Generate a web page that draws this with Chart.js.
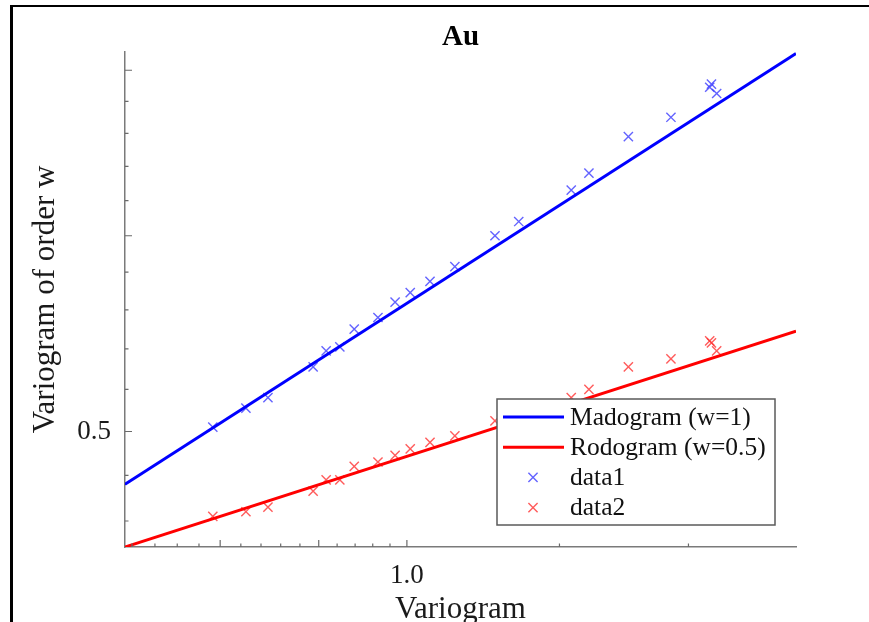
<!DOCTYPE html>
<html>
<head>
<meta charset="utf-8">
<title>Au</title>
<script src="https://cdn.jsdelivr.net/npm/chart.js@4.4.1/dist/chart.umd.min.js"></script>
<style>
  html, body { margin: 0; padding: 0; background: #fff; overflow: hidden; }
  .frame {
    position: absolute; left: 10px; top: 5px; width: 900px; height: 700px;
    border-left: 3px solid #000; border-top: 2.5px solid #000;
  }
  #chart { position: absolute; left: 0; top: 0; }
</style>
</head>
<body>
<div class="frame"></div>
<canvas id="chart" width="869" height="622"></canvas>
<script>
// experimental points: variogram vs. variogram of order w
const variogram = [0.793, 0.825, 0.847, 0.894, 0.908, 0.923, 0.939, 0.966, 0.986, 1.004, 1.028,
                   1.059, 1.111, 1.143, 1.217, 1.243, 1.303, 1.371, 1.436, 1.439, 1.448];
const madogram  = [0.502, 0.511, 0.516, 0.531, 0.539, 0.541, 0.550, 0.556, 0.564, 0.569, 0.575,
                   0.583, 0.600, 0.608, 0.626, 0.636, 0.658, 0.670, 0.689, 0.691, 0.685];
const rodogram  = [0.462, 0.464, 0.466, 0.473, 0.478, 0.478, 0.484, 0.486, 0.489, 0.492, 0.495,
                   0.498, 0.505, 0.508, 0.516, 0.520, 0.531, 0.535, 0.544, 0.543, 0.539];

// fitted power laws, evaluated at the axis limits
const fitX = [0.714, 1.592];
const madogramFit = [0.476, 0.711];
const rodogramFit = [0.449, 0.549];

// axis limits and tick marks (log axes)
const xRange = [0.714, 1.592];
const yRange = [0.449, 0.712];
const xTickValues = [0.72, 0.74, 0.76, 0.78, 0.80, 0.82, 0.84, 0.86, 0.88, 0.90, 0.92, 0.94,
                     0.96, 0.98, 1.0, 1.2, 1.4];
const yTickValues = [0.46, 0.48, 0.50, 0.52, 0.54, 0.56, 0.58, 0.60, 0.62, 0.64, 0.66, 0.68, 0.70];
const xMajorTicks = [0.8, 0.9, 1.0];
const yMajorTicks = [0.5, 0.6, 0.7];
const xTickLabels = [1.0];
const yTickLabels = [0.5];

const FONT = '"Liberation Serif", "Times New Roman", serif';

const toPoints = (xs, ys) => xs.map((x, i) => ({ x: x, y: ys[i] }));

// MATLAB style ticks pointing into the plot
const inwardTicks = {
  id: 'inwardTicks',
  afterDatasetsDraw(chart) {
    const { ctx, chartArea: area, scales: { x, y } } = chart;
    ctx.save();
    ctx.strokeStyle = '#6a6a6a';
    ctx.lineWidth = 1.2;
    ctx.beginPath();
    xTickValues.forEach(v => {
      const px = x.getPixelForValue(v);
      const len = xMajorTicks.includes(v) ? 7 : 3.5;
      ctx.moveTo(px, area.bottom);
      ctx.lineTo(px, area.bottom - len);
    });
    yTickValues.forEach(v => {
      const py = y.getPixelForValue(v);
      const len = yMajorTicks.includes(v) ? 7 : 3.5;
      ctx.moveTo(area.left, py);
      ctx.lineTo(area.left + len, py);
    });
    ctx.stroke();
    ctx.restore();
  }
};

// title centred over the plot area
const plotTitle = {
  id: 'plotTitle',
  afterDraw(chart) {
    const { ctx, chartArea: area } = chart;
    ctx.save();
    ctx.font = 'bold 29px ' + FONT;
    ctx.fillStyle = '#000';
    ctx.textAlign = 'center';
    ctx.textBaseline = 'alphabetic';
    ctx.fillText('Au', (area.left + area.right) / 2, 45);
    ctx.restore();
  }
};

// boxed legend in the lower right corner of the axes
const boxLegend = {
  id: 'boxLegend',
  afterDraw(chart) {
    const { ctx, chartArea: area } = chart;
    const w = 278, h = 126;
    const left = area.right - 21 - w;
    const top = area.bottom - 22 - h;
    ctx.save();
    ctx.fillStyle = '#fff';
    ctx.fillRect(left, top, w, h);
    ctx.strokeStyle = '#5a5a5a';
    ctx.lineWidth = 1.5;
    ctx.strokeRect(left, top, w, h);

    ctx.font = '25.5px ' + FONT;
    ctx.textBaseline = 'middle';
    chart.data.datasets.forEach((ds, i) => {
      const cy = top + 18 + i * 30.2;
      if (ds.showLine) {
        ctx.strokeStyle = ds.borderColor;
        ctx.lineWidth = ds.borderWidth;
        ctx.beginPath();
        ctx.moveTo(left + 6, cy);
        ctx.lineTo(left + 67, cy);
        ctx.stroke();
      } else {
        ctx.strokeStyle = ds.borderColor;
        ctx.lineWidth = ds.pointBorderWidth;
        Chart.helpers.drawPoint(ctx, {
          pointStyle: 'crossRot', rotation: 0, radius: ds.pointRadius, borderWidth: ds.pointBorderWidth
        }, left + 36, cy);
      }
      ctx.fillStyle = '#111';
      ctx.fillText(ds.label, left + 73, cy + 1);
    });
    ctx.restore();
  }
};

new Chart(document.getElementById('chart'), {
  type: 'scatter',
  data: {
    datasets: [
      {
        label: 'Madogram (w=1)',
        data: toPoints(fitX, madogramFit),
        showLine: true,
        borderColor: '#0000ff',
        borderWidth: 3,
        pointRadius: 0
      },
      {
        label: 'Rodogram (w=0.5)',
        data: toPoints(fitX, rodogramFit),
        showLine: true,
        borderColor: '#ff0000',
        borderWidth: 3,
        pointRadius: 0
      },
      {
        label: 'data1',
        data: toPoints(variogram, madogram),
        showLine: false,
        pointStyle: 'crossRot',
        pointRadius: 6.5,
        pointBorderWidth: 1.4,
        borderColor: 'rgba(60, 60, 255, 0.8)'
      },
      {
        label: 'data2',
        data: toPoints(variogram, rodogram),
        showLine: false,
        pointStyle: 'crossRot',
        pointRadius: 6.5,
        pointBorderWidth: 1.4,
        borderColor: 'rgba(255, 50, 50, 0.8)'
      }
    ]
  },
  options: {
    responsive: false,
    animation: false,
    layout: { padding: { top: 52, right: 73, bottom: 0, left: 0 } },
    plugins: {
      legend: { display: false },
      tooltip: { enabled: false },
      title: { display: false }
    },
    scales: {
      x: {
        type: 'logarithmic',
        min: xRange[0],
        max: xRange[1],
        afterBuildTicks: scale => { scale.ticks = xTickLabels.map(v => ({ value: v })); },
        afterFit: scale => { scale.height = 75; },
        grid: { display: false, drawTicks: false },
        border: { color: '#7a7a7a', width: 1.5 },
        ticks: {
          autoSkip: false,
          maxRotation: 0,
          padding: 13,
          color: '#1a1a1a',
          font: { family: FONT, size: 27 },
          callback: v => Number(v).toFixed(1)
        },
        title: {
          display: true,
          text: 'Variogram',
          color: '#1a1a1a',
          font: { family: FONT, size: 31, lineHeight: 0.8 },
          padding: 0
        }
      },
      y: {
        type: 'logarithmic',
        min: yRange[0],
        max: yRange[1],
        afterBuildTicks: scale => { scale.ticks = yTickLabels.map(v => ({ value: v })); },
        afterFit: scale => { scale.width = 125; },
        grid: { display: false, drawTicks: false },
        border: { color: '#7a7a7a', width: 1.5 },
        ticks: {
          autoSkip: false,
          padding: 14,
          color: '#1a1a1a',
          font: { family: FONT, size: 27 },
          callback: v => Number(v).toFixed(1)
        },
        title: {
          display: true,
          text: 'Variogram of order w',
          color: '#1a1a1a',
          font: { family: FONT, size: 31, lineHeight: 1 },
          padding: { top: 30, bottom: 0 }
        }
      }
    }
  },
  plugins: [inwardTicks, plotTitle, boxLegend]
});
</script>
</body>
</html>
